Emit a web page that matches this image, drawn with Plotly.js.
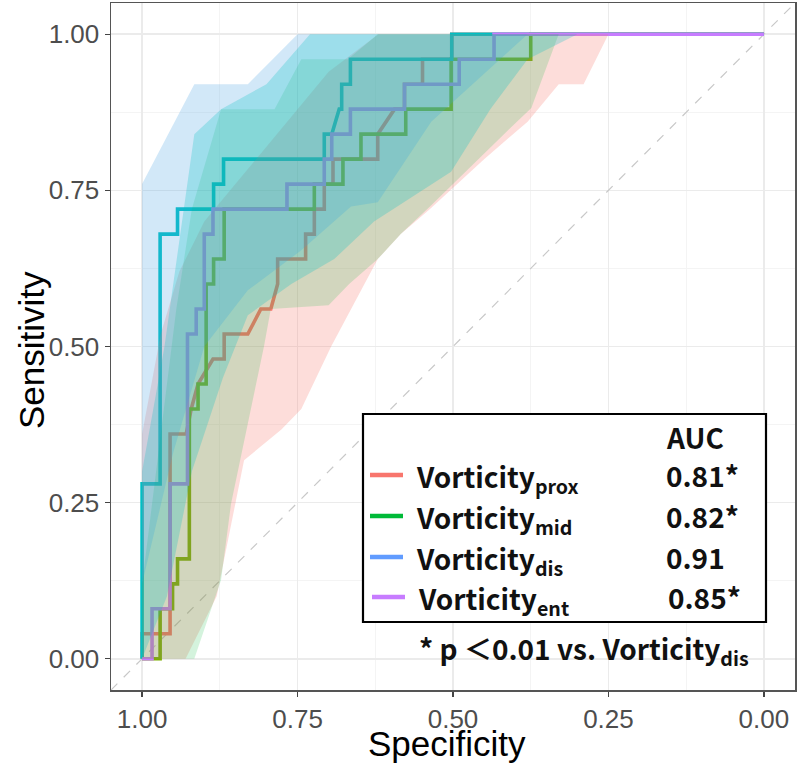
<!DOCTYPE html>
<html><head><meta charset="utf-8">
<script src="https://cdn.plot.ly/plotly-3.0.1.min.js"></script>
<style>html,body{margin:0;padding:0;background:#fff}#chart{width:800px;height:768px}</style>
</head><body><div id="chart"></div>
<script>
// ---- ROC step curves (specificity, sensitivity) ----
const prox_spec = [1,1,0.955,0.955,0.929,0.921,0.91,0.886,0.868,0.868,0.83,0.809,0.793,0.782,0.782,0.737,0.737,0.723,0.723,0.707,0.707,0.693,0.693,0.621,0.621,0.594,0.578,0.578,0.549,0.549,0.502,0.502,0];
const prox_sens = [0,0.04,0.04,0.36,0.36,0.40,0.44,0.48,0.48,0.52,0.52,0.56,0.56,0.60,0.64,0.64,0.68,0.68,0.72,0.72,0.76,0.76,0.80,0.80,0.84,0.88,0.88,0.92,0.92,0.96,0.96,1.0,1.0];
const mid_spec = [1,0.971,0.971,0.951,0.951,0.943,0.943,0.924,0.924,0.91,0.91,0.897,0.897,0.885,0.885,0.868,0.868,0.723,0.723,0.677,0.677,0.648,0.648,0.576,0.576,0.503,0.503,0.375,0.375,0];
const mid_sens = [0,0,0.08,0.08,0.12,0.12,0.16,0.16,0.40,0.40,0.44,0.44,0.60,0.60,0.64,0.64,0.72,0.72,0.76,0.76,0.80,0.80,0.84,0.84,0.88,0.88,0.96,0.96,1.0,1.0];
const dis_spec = [1,1,0.971,0.971,0.943,0.943,0.885,0.885,0.869,0.869,0.707,0.707,0.695,0.683,0.679,0.679,0.665,0.665,0.502,0.502,0];
const dis_sens = [0,0.28,0.28,0.68,0.68,0.72,0.72,0.76,0.76,0.80,0.80,0.84,0.84,0.88,0.88,0.92,0.92,0.96,0.96,1.0,1.0];
const ent_spec = [1,0.984,0.984,0.955,0.955,0.927,0.927,0.913,0.913,0.90,0.90,0.886,0.886,0.767,0.767,0.707,0.707,0.695,0.695,0.665,0.665,0.578,0.578,0.49,0.49,0.434,0.434,0];
const ent_sens = [0,0,0.08,0.08,0.28,0.28,0.52,0.52,0.56,0.56,0.68,0.68,0.72,0.72,0.76,0.76,0.80,0.80,0.84,0.84,0.88,0.88,0.92,0.92,0.96,0.96,1.0,1.0];

// ---- confidence bands: upper and lower edges ----
const prox_up_spec = [1.0,0.97,0.94,0.90,0.85,0.80,0.75,0.70,0.62,0.0];
const prox_up_sens = [0.36,0.52,0.62,0.70,0.76,0.82,0.88,0.94,1.0,1.0];
const prox_lo_spec = [1.0,0.93,0.88,0.836,0.776,0.744,0.696,0.664,0.621,0.584,0.537,0.45,0.38,0.33,0.29,0.25,0.0];
const prox_lo_sens = [0,0,0.10,0.318,0.367,0.40,0.50,0.56,0.64,0.68,0.72,0.80,0.86,0.92,0.92,1.0,1.0];
const mid_up_spec = [1.0,0.97,0.945,0.92,0.873,0.787,0.744,0.669,0.621,0.0];
const mid_up_sens = [0.12,0.36,0.56,0.72,0.88,0.88,0.96,0.96,1.0,1.0];
const mid_lo_spec = [1.0,0.916,0.873,0.857,0.804,0.793,0.70,0.667,0.621,0.584,0.537,0.416,0.374,0.33,0.0];
const mid_lo_sens = [0,0,0.126,0.248,0.50,0.56,0.566,0.60,0.64,0.68,0.724,0.842,0.882,1.0,1.0];
const dis_up_spec = [1.0,0.916,0.83,0.75,0.0];
const dis_up_sens = [0.76,0.92,0.92,1.0,1.0];
const dis_lo_spec = [1.0,0.95,0.90,0.83,0.744,0.664,0.621,0.535,0.38,0.0];
const dis_lo_sens = [0.12,0.33,0.50,0.59,0.654,0.724,0.731,0.86,1.0,1.0];
const ent_up_spec = [1.0,0.964,0.916,0.873,0.80,0.73,0.0];
const ent_up_sens = [0.30,0.50,0.84,0.88,0.92,1.0,1.0];
const ent_lo_spec = [1.0,0.96,0.92,0.87,0.83,0.76,0.691,0.627,0.503,0.44,0.38,0.30,0.0];
const ent_lo_sens = [0,0.10,0.30,0.45,0.55,0.60,0.64,0.70,0.78,0.88,0.96,1.0,1.0];

// ---- legend content ----
const legend_names = ['prox','mid','dis','ent'];
const legend_auc = ['0.81*','0.82*','0.91','0.85*'];
const legend_colors = ['#F8766D','#00BA38','#619CFF','#C77CFF'];
const footnote = '* p ＜0.01 vs. Vorticity<sub>dis</sub>';
const xTicks = [1.00,0.75,0.50,0.25,0.00];
const xTickText = ['1.00','0.75','0.50','0.25','0.00'];
const yTicks = [0,0.25,0.5,0.75,1];
const yTickText = ['0.00','0.25','0.50','0.75','1.00'];

const lineColors = {prox:'#F8766D', mid:'#7CAE00', dis:'#00BFC4', ent:'#C77CFF'};
const bandColors = {prox:'rgba(248,118,109,0.25)', mid:'rgba(0,186,56,0.17)', dis:'rgba(75,163,227,0.25)', ent:'rgba(0,191,196,0.25)'};

const traces = [];
traces.push({x:[1.05,-0.05], y:[-0.05,1.05], mode:'lines', line:{color:'#C8C8C8', width:1.2, dash:'dash'}, hoverinfo:'skip'});
const curves = {prox:[prox_spec,prox_sens], mid:[mid_spec,mid_sens], dis:[dis_spec,dis_sens], ent:[ent_spec,ent_sens]};
['prox','mid','dis','ent'].forEach(k=>{
  traces.push({x:curves[k][0], y:curves[k][1], mode:'lines', line:{color:lineColors[k], width:3.6}, hoverinfo:'skip'});
});
const bands = {
  prox:[prox_up_spec,prox_up_sens,prox_lo_spec,prox_lo_sens],
  mid:[mid_up_spec,mid_up_sens,mid_lo_spec,mid_lo_sens],
  dis:[dis_up_spec,dis_up_sens,dis_lo_spec,dis_lo_sens],
  ent:[ent_up_spec,ent_up_sens,ent_lo_spec,ent_lo_sens]
};
['prox','mid','dis','ent'].forEach(k=>{
  const b = bands[k];
  const xs = b[0].concat(b[2].slice().reverse());
  const ys = b[1].concat(b[3].slice().reverse());
  traces.push({x:xs, y:ys, mode:'lines', fill:'toself', fillcolor:bandColors[k], line:{width:0, color:'rgba(0,0,0,0)'}, hoverinfo:'skip'});
});

// pixel -> paper helpers (plot area 111..795 x 3..690)
const L=111, R=795, T=3, B=690;
const px = v => (v-L)/(R-L);
const py = v => (B-v)/(B-T);

const shapes = [{type:'rect', xref:'paper', yref:'paper', x0:px(363), x1:px(766), y0:py(622), y1:py(414), line:{color:'#000', width:2.2}, fillcolor:'#fff', layer:'above'}];
const rowY = [475,516,557,597];
const annotations = [];
const lf = {family:'Noto Sans CJK JP, Noto Sans, sans-serif', size:28, color:'#111', weight:'bold'};
annotations.push({xref:'paper', yref:'paper', x:px(664), y:py(437), text:'AUC', showarrow:false, xanchor:'left', yanchor:'middle', font:lf});
legend_names.forEach((n,i)=>{
  const off = i===3 ? 2 : 0;
  shapes.push({type:'line', xref:'paper', yref:'paper', x0:px(370+off), x1:px(403+off), y0:py(rowY[i]), y1:py(rowY[i]), line:{color:legend_colors[i], width:4.5}, layer:'above'});
  annotations.push({xref:'paper', yref:'paper', x:px(414+off), y:py(rowY[i]+3), text:'Vorticity<sub>'+n+'</sub>', showarrow:false, xanchor:'left', yanchor:'middle', font:lf});
  annotations.push({xref:'paper', yref:'paper', x:px(664+off), y:py(rowY[i]), text:legend_auc[i], showarrow:false, xanchor:'left', yanchor:'middle', font:lf});
});
annotations.push({xref:'paper', yref:'paper', x:px(417), y:py(650), text:footnote, showarrow:false, xanchor:'left', yanchor:'middle', font:lf});
// axis titles
const tf = {family:'Liberation Sans, Arial, sans-serif', size:35, color:'#000'};
annotations.push({xref:'paper', yref:'paper', x:px(447), y:py(743), text:'Specificity', showarrow:false, xanchor:'center', yanchor:'middle', font:tf});
annotations.push({xref:'paper', yref:'paper', x:px(31), y:py(350), text:'Sensitivity', showarrow:false, xanchor:'center', yanchor:'middle', textangle:-90, font:tf});

const axisCommon = {
  showline:true, mirror:true, linecolor:'#555', linewidth:1.5,
  ticks:'outside', ticklen:5, tickcolor:'#444', tickwidth:1.3,
  showgrid:true, gridcolor:'#EBEBEB', gridwidth:1.5,
  minor:{dtick:0.125, showgrid:true, gridcolor:'#F4F4F4', gridwidth:1},
  zeroline:false,
  tickfont:{family:'Liberation Sans, Arial, sans-serif', size:26, color:'#4D4D4D'}
};
const layout = {
  width:800, height:768,
  margin:{l:L, r:800-R, t:T, b:768-B},
  paper_bgcolor:'#fff', plot_bgcolor:'#fff',
  showlegend:false, hovermode:false,
  xaxis:Object.assign({}, axisCommon, {range:[1.05,-0.05], tickvals:xTicks, ticktext:xTickText}),
  yaxis:Object.assign({}, axisCommon, {range:[-0.05,1.05], tickvals:yTicks, ticktext:yTickText}),
  shapes:shapes, annotations:annotations
};
Plotly.newPlot('chart', traces, layout, {staticPlot:true, displayModeBar:false});
</script></body></html>
